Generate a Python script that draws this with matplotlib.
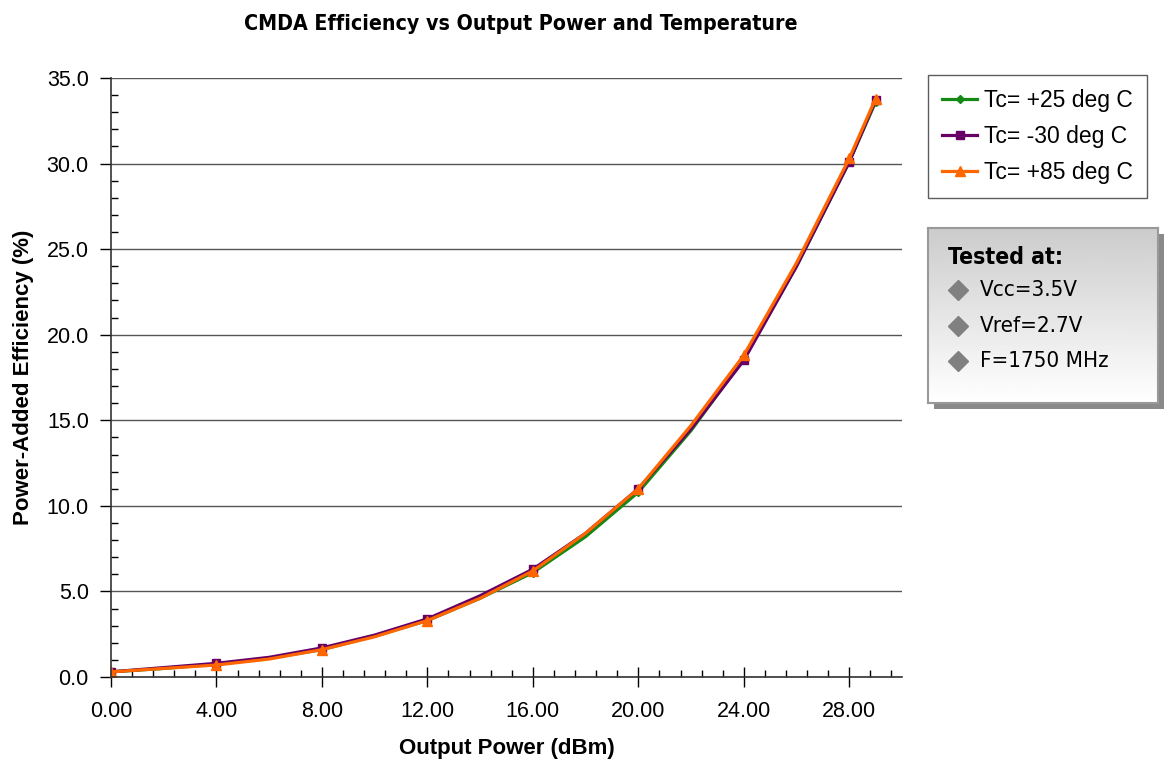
import matplotlib.pyplot as plt
import numpy as np
from matplotlib.patches import Rectangle
from matplotlib.ticker import MultipleLocator, FormatStrFormatter

plt.rcParams['font.family'] = ['Liberation Sans', 'DejaVu Sans']

# Output power (dBm)
pout = [0, 2, 4, 6, 8, 10, 12, 14, 16, 18, 20, 22, 24, 26, 28, 29]
# Power-added efficiency (%)
pae_25 = [0.3, 0.5, 0.75, 1.1, 1.6, 2.4, 3.3, 4.6, 6.1, 8.2, 10.8, 14.4, 18.6, 24.0, 30.1, 33.6]
pae_m30 = [0.3, 0.55, 0.8, 1.15, 1.7, 2.45, 3.4, 4.75, 6.3, 8.4, 11.0, 14.5, 18.5, 24.0, 30.1, 33.7]
pae_85 = [0.3, 0.5, 0.7, 1.05, 1.6, 2.35, 3.3, 4.6, 6.2, 8.4, 11.0, 14.7, 18.8, 24.2, 30.3, 33.8]
labels = ['Tc= +25 deg C', 'Tc= -30 deg C', 'Tc= +85 deg C']
notes = ['Vcc=3.5V', 'Vref=2.7V', 'F=1750 MHz']

marks = [i for i, p in enumerate(pout) if p % 4 == 0 or p == 29]
cond = dict(family=['DejaVu Sans', 'Liberation Sans'], stretch='condensed')

fig = plt.figure(figsize=(11.67, 7.62), dpi=100)
ax = fig.add_axes([111 / 1167, 85 / 762, 791 / 1167, 599 / 762])

ax.plot(pout, pae_25, color='#138a13', lw=2.3, marker='D', ms=4, markevery=marks, label=labels[0])
ax.plot(pout, pae_m30, color='#660066', lw=2.3, marker='s', ms=6, markevery=marks, label=labels[1])
ax.plot(pout, pae_85, color='#ff6600', lw=2.3, marker='^', ms=7.5, markevery=marks, label=labels[2])

ax.set_xlim(0, 30)
ax.set_ylim(0, 35)
ax.xaxis.set_major_locator(MultipleLocator(4))
ax.xaxis.set_minor_locator(MultipleLocator(0.8))
ax.yaxis.set_major_locator(MultipleLocator(5))
ax.yaxis.set_minor_locator(MultipleLocator(1))
ax.xaxis.set_major_formatter(FormatStrFormatter('%.2f'))
ax.yaxis.set_major_formatter(FormatStrFormatter('%.1f'))
ax.tick_params(axis='x', which='major', direction='inout', length=14, width=1, labelsize=15.5, pad=10)
ax.tick_params(axis='y', which='major', direction='out', length=8, width=1, labelsize=15.5, pad=8)
ax.tick_params(which='minor', direction='in', length=5, width=1)
ax.grid(axis='y', which='major', color='#555555', lw=1)
ax.set_axisbelow(True)
for s in ['top', 'right']:
    ax.spines[s].set_visible(False)
for s in ['left', 'bottom']:
    ax.spines[s].set_color('#333333')
    ax.spines[s].set_linewidth(1.2)

ax.set_xlabel('Output Power (dBm)', fontsize=16, fontweight='bold', labelpad=12)
ax.set_ylabel('Power-Added Efficiency (%)', fontsize=16, fontweight='bold', labelpad=9)
fig.text(0.4465, 0.968, 'CMDA Efficiency vs Output Power and Temperature',
         ha='center', va='center', fontsize=15.3, fontweight='bold', **cond)

leg = fig.legend(loc='upper left', bbox_to_anchor=(928 / 1167, 1 - 75 / 762),
                 fontsize=16.5, frameon=True, fancybox=False, handlelength=1.55,
                 borderpad=0.6, labelspacing=0.57, handletextpad=0.3, borderaxespad=0)
leg.get_frame().set_edgecolor('#333333')
leg.get_frame().set_linewidth(1)

# "Tested at" box with shadow and gradient
bx0, by0, bw, bh = 928 / 1167, 1 - 403 / 762, 230 / 1167, 175 / 762
fig.patches.append(Rectangle((bx0 + 6 / 1167, by0 - 6 / 762), bw, bh, transform=fig.transFigure,
                             facecolor='#8a8a8a', edgecolor='none', zorder=1))
grad = np.linspace(0.80, 1.0, 100).reshape(-1, 1)
gax = fig.add_axes([bx0, by0, bw, bh], zorder=2)
gax.imshow(grad, cmap='gray', vmin=0, vmax=1, aspect='auto', extent=[0, 1, 0, 1])
gax.set_xlim(0, 1)
gax.set_ylim(0, 1)
gax.set_xticks([])
gax.set_yticks([])
for s in gax.spines.values():
    s.set_color('#999999')
    s.set_linewidth(1.5)
gax.text(0.085, 0.83, 'Tested at:', fontsize=16.5, fontweight='bold', va='center', **cond)
for i, n in enumerate(notes):
    yy = 0.645 - i * 0.203
    gax.plot([0.13], [yy], marker='D', color='#808080', ms=10)
    gax.text(0.225, yy, n, fontsize=16, va='center', **cond)

plt.savefig('out.png')
